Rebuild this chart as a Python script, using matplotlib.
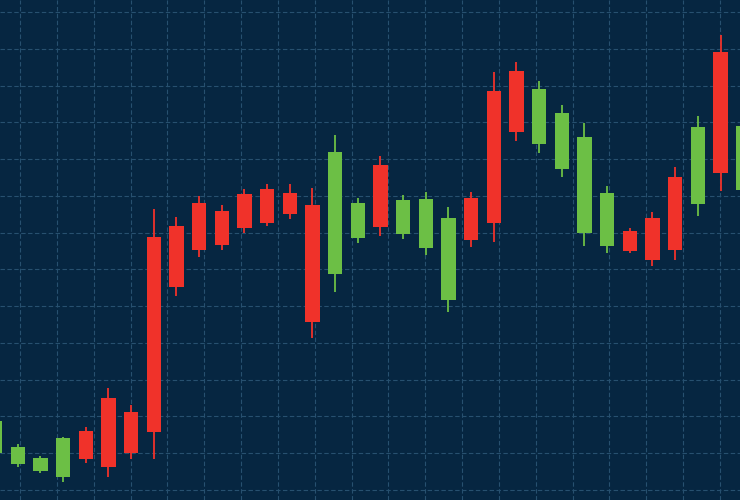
import numpy as np
import matplotlib
matplotlib.use("Agg")
import matplotlib.pyplot as plt
from matplotlib.ticker import MultipleLocator

# OHLC data (candle index 0..33)
opens  = [118.8, 111.8, 108.8, 114.1, 108.3, 106.2, 110.1, 115.9, 155.3, 165.3,
          166.6, 171.2, 172.5, 175.1, 145.6, 191.8, 178.0, 171.4, 178.9, 179.1,
          173.9, 168.0, 172.7, 197.4, 209.1, 202.4, 195.9, 180.7, 165.1, 162.6,
          165.3, 198.6, 186.3, 199.0]
highs  = [119.6, 112.5, 109.2, 114.4, 117.2, 127.7, 123.1, 176.3, 174.3, 180.0,
          177.5, 181.9, 183.2, 183.1, 182.1, 196.5, 179.3, 190.9, 180.2, 181.1,
          177.0, 181.1, 213.6, 216.5, 211.3, 204.7, 199.7, 182.8, 171.2, 175.5,
          187.9, 201.7, 223.7, 201.2]
lows   = [109.5, 106.3, 104.7, 102.3, 107.3, 103.5, 108.3, 108.3, 152.8, 163.4,
          165.3, 170.0, 171.8, 173.7, 141.3, 153.9, 167.3, 169.1, 168.2, 163.8,
          148.5, 166.2, 167.5, 195.0, 191.7, 185.2, 166.4, 164.4, 164.4, 160.9,
          162.6, 174.6, 181.4, 179.4]
closes = [110.1, 107.0, 105.2, 103.6, 116.1, 124.9, 121.3, 168.7, 171.9, 178.1,
          175.9, 180.5, 181.9, 180.7, 177.5, 158.7, 168.6, 188.4, 169.5, 165.7,
          151.7, 179.5, 208.5, 214.0, 194.0, 187.3, 170.0, 166.4, 170.4, 173.9,
          185.0, 177.7, 219.2, 181.6]

BG = "#062641"
UP = "#f0322a"
DOWN = "#6cbf45"
GRID = "#27506f"

x = np.arange(len(opens))
o = np.array(opens); c = np.array(closes)
h = np.array(highs); l = np.array(lows)
colors = [UP if cc >= oo else DOWN for oo, cc in zip(o, c)]

fig = plt.figure(figsize=(7.4, 5.0), dpi=100, facecolor=BG)
ax = fig.add_axes([0, 0, 1, 1])
ax.set_facecolor(BG)

ax.vlines(x, l, h, colors=colors, linewidth=1.3, zorder=2)
ax.bar(x, np.abs(c - o), bottom=np.minimum(o, c), width=0.63,
       color=colors, edgecolor='none', zorder=3)

ax.set_xticks(np.arange(1.1015 - 1.625, 34, 1.625))
ax.yaxis.set_major_locator(MultipleLocator(10))
ax.set_xlim(0.2192, 32.86)
ax.set_ylim(97.28, 233.26)
ax.grid(True, color=GRID, linestyle=(0, (4, 2.2)), linewidth=0.8, zorder=0)
ax.set_axisbelow(True)
ax.tick_params(length=0, labelbottom=False, labelleft=False)
for s in ax.spines.values():
    s.set_visible(False)

fig.savefig("out.png", dpi=100, facecolor=BG)
